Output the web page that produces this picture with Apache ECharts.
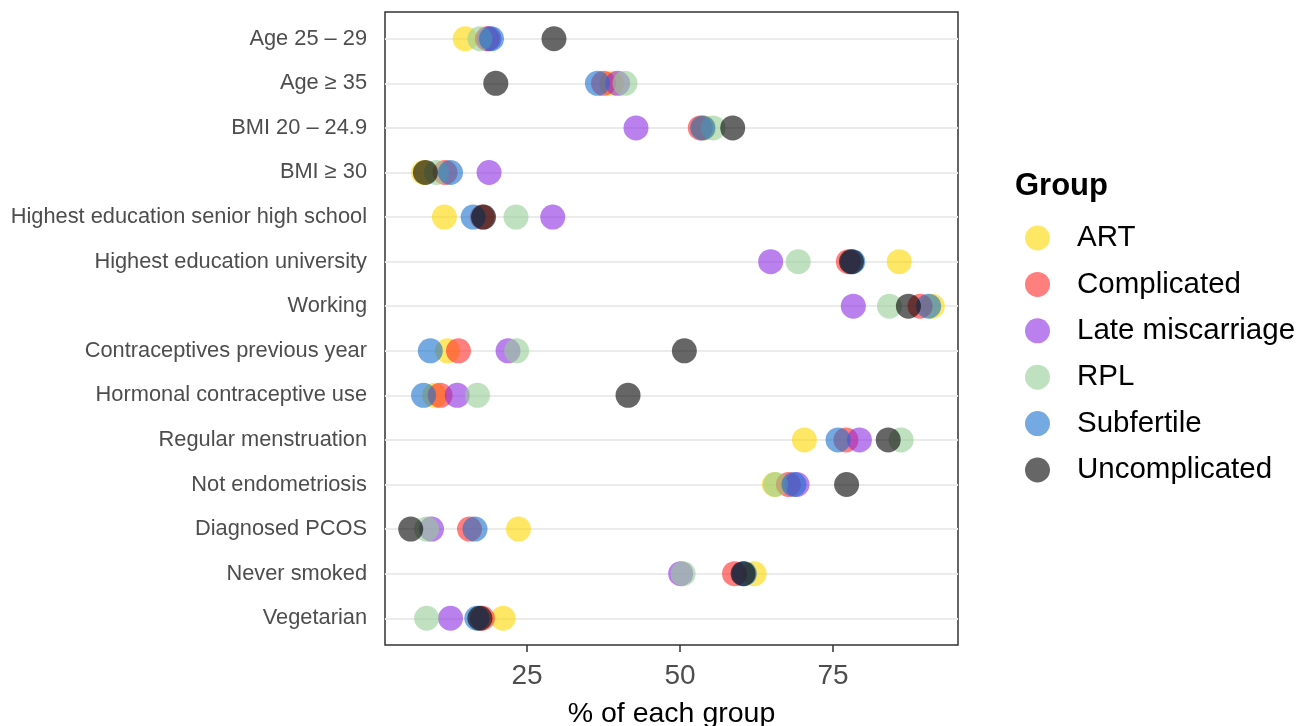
<!DOCTYPE html>
<html>
<head>
<meta charset="utf-8">
<script src="https://cdn.jsdelivr.net/npm/echarts@6/dist/echarts.min.js"></script>
<style>
  html, body { margin: 0; padding: 0; background: #fff; }
  #chart { width: 1301px; height: 726px; }
</style>
</head>
<body>
<div id="chart"></div>
<script>
// rows, top to bottom
const categories = [
  "Age 25 – 29",
  "Age ≥ 35",
  "BMI 20 – 24.9",
  "BMI ≥ 30",
  "Highest education senior high school",
  "Highest education university",
  "Working",
  "Contraceptives previous year",
  "Hormonal contraceptive use",
  "Regular menstruation",
  "Not endometriosis",
  "Diagnosed PCOS",
  "Never smoked",
  "Vegetarian"
];

const groups = ["ART", "Complicated", "Late miscarriage", "RPL", "Subfertile", "Uncomplicated"];

// % of each group, same order as categories
const art           = [14.9, 38.8, 53.9,  8.1, 11.5, 85.8, 91.2, 12.0,  9.9, 70.3, 65.4, 23.6, 62.1, 21.1];
const complicated   = [18.5, 37.5, 53.3, 11.6, 17.7, 77.5, 89.2, 13.8, 10.8, 77.1, 67.7, 15.6, 58.9, 17.7];
const lateMisc      = [18.8, 39.8, 42.8, 18.8, 29.2, 64.8, 78.3, 21.9, 13.6, 79.3, 69.1,  9.4, 50.1, 12.5];
const rpl           = [17.3, 41.0, 55.4, 10.2, 23.2, 69.3, 84.2, 23.3, 16.9, 86.1, 65.6,  8.6, 50.5,  8.6];
const subfertile    = [19.2, 36.5, 53.7, 12.5, 16.2, 78.2, 90.6,  9.2,  8.1, 75.8, 68.6, 16.5, 60.5, 16.8];
const uncomplicated = [29.4, 19.9, 58.6,  8.4, 17.9, 78.0, 87.3, 50.7, 41.5, 84.0, 77.2,  6.0, 60.3, 17.3];

const xTicks = [25, 50, 75];

const seriesValues = [art, complicated, lateMisc, rpl, subfertile, uncomplicated];
const colors = [
  "rgba(255,215,0,0.6)",
  "rgba(255,40,40,0.6)",
  "rgba(138,43,226,0.6)",
  "rgba(150,205,150,0.6)",
  "rgba(24,113,205,0.6)",
  "rgba(0,0,0,0.6)"
];

const FONT = "'Liberation Sans', Arial, sans-serif";
const rowIdx = categories.map((c, i) => i);

const chart = echarts.init(document.getElementById("chart"));

const series = [
  {
    // horizontal gridlines, one per row
    type: "line",
    data: [],
    silent: true,
    z: 0,
    markLine: {
      silent: true,
      z: 0,
      symbol: "none",
      label: { show: false },
      lineStyle: { color: "#EBEBEB", width: 1.8, type: "solid" },
      data: rowIdx.map(i => ({ yAxis: i }))
    }
  }
];
groups.forEach((g, k) => {
  series.push({
    name: g,
    type: "scatter",
    z: 3,
    symbolSize: 25,
    itemStyle: { color: colors[k], opacity: 1 },
    data: seriesValues[k].map((v, i) => [v, i])
  });
});

const option = {
  animation: false,
  textStyle: { fontFamily: FONT },
  title: {
    text: "Group",
    left: 1010,
    top: 166,
    textStyle: { fontFamily: FONT, fontSize: 31, fontWeight: "bold", color: "#000" }
  },
  legend: {
    data: groups,
    orient: "vertical",
    left: 1020,
    top: 218,
    itemWidth: 25,
    itemHeight: 25,
    itemGap: 16.4,
    icon: "circle",
    textStyle: { fontFamily: FONT, fontSize: 29.5, color: "#000", padding: [0, 0, 0, 22] }
  },
  grid: {
    left: 385,
    right: 343,
    top: 12,
    bottom: 81,
    show: true,
    borderColor: "#333",
    borderWidth: 1.5,
    containLabel: false,
    outerBoundsMode: "none"
  },
  xAxis: {
    type: "value",
    position: "bottom",
    min: 1.8,
    max: 95.4,
    name: "% of each group",
    nameLocation: "middle",
    nameGap: 55,
    nameTextStyle: { fontFamily: FONT, fontSize: 28.5, color: "#000" },
    axisLine: { show: false, onZero: false },
    splitLine: { show: false },
    axisTick: {
      show: true,
      customValues: xTicks,
      length: 7,
      lineStyle: { color: "#333", width: 1.5 }
    },
    axisLabel: {
      customValues: xTicks,
      margin: 17,
      fontFamily: FONT,
      fontSize: 28,
      color: "#4D4D4D"
    }
  },
  yAxis: {
    type: "value",
    min: -0.6,
    max: categories.length - 1 + 0.6,
    inverse: true,
    axisLine: { show: false, onZero: false },
    splitLine: { show: false },
    axisTick: { show: false },
    axisLabel: {
      customValues: rowIdx,
      margin: 18,
      fontFamily: FONT,
      fontSize: 21.8,
      color: "#4D4D4D",
      formatter: v => categories[Math.round(v)] || ""
    }
  },
  series: series
};

chart.setOption(option);
window.addEventListener("resize", function () {
  chart.resize();
});
</script>
</body>
</html>
